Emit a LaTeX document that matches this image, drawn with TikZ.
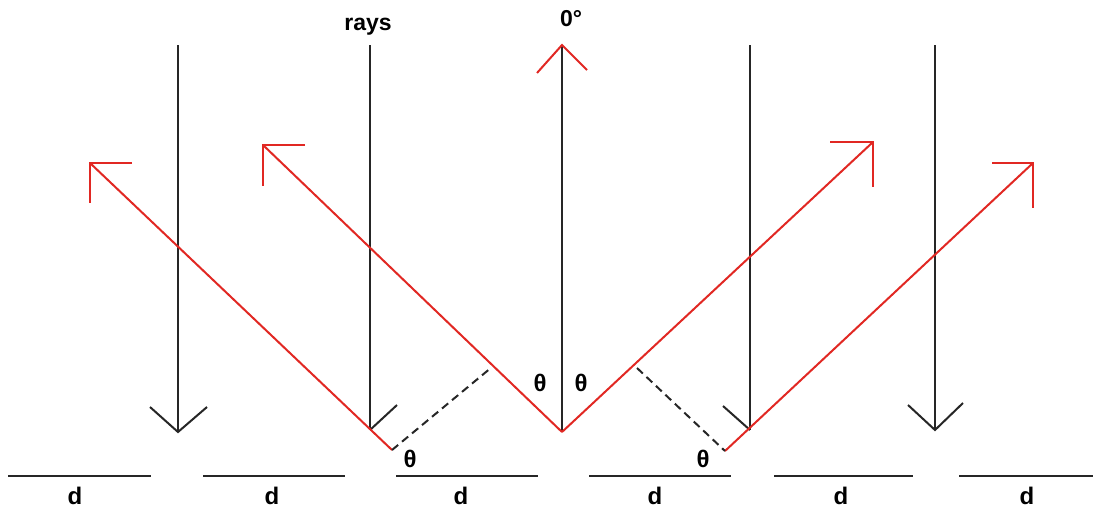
\documentclass[tikz,border=0pt]{standalone}
\usepackage{fontspec}
\setmainfont{Liberation Sans}
\definecolor{rayred}{RGB}{225,40,35}
\begin{document}
\begin{tikzpicture}[x=1pt,y=-1pt,
  ray/.style={draw=black!85, line width=2pt},
  refl/.style={draw=rayred, line width=2pt},
  guide/.style={draw=black!85, line width=2pt, dash pattern=on 8pt off 5pt},
  plate/.style={draw=black!85, line width=2.2pt},
  lab/.style={font=\fontsize{23}{25}\selectfont\bfseries, inner sep=0pt},
  glab/.style={font=\fontsize{24}{26}\selectfont\bfseries, inner sep=0pt}]
\useasboundingbox (0,0) rectangle (1093,509);

% incoming rays (top ends and bottom ends)
\coordinate (t1) at (178,45);  \coordinate (b1) at (178,432);
\coordinate (t2) at (370,45);  \coordinate (b2) at (370,430);
\coordinate (t3) at (562,45);  \coordinate (b3) at (562,432);
\coordinate (t4) at (750,45);  \coordinate (b4) at (750,430);
\coordinate (t5) at (935,45);  \coordinate (b5) at (935,430);
\foreach \i in {1,...,5} \draw[ray] (t\i) -- (b\i);

% black arrow wings
\coordinate (w1l) at (150,407); \coordinate (w1r) at (207,407);
\coordinate (w2r) at (397,405);
\coordinate (w4l) at (723,406);
\coordinate (w5l) at (908,405); \coordinate (w5r) at (963,403);
\draw[ray] (w1l) -- (b1) -- (w1r);
\draw[ray] (b2) -- (w2r);
\draw[ray] (w4l) -- (b4);
\draw[ray] (w5l) -- (b5) -- (w5r);

% reflected rays
\coordinate (p1) at (392,450); \coordinate (a1) at (90,163);
\coordinate (a2) at (263,145);
\coordinate (a3) at (873,142);
\coordinate (p4) at (725,451); \coordinate (a4) at (1033,163);
\draw[refl] (p1) -- (a1);
\draw[refl] (b3) -- (a2);
\draw[refl] (b3) -- (a3);
\draw[refl] (p4) -- (a4);

% red arrow wings
\coordinate (r1h) at (132,163); \coordinate (r1v) at (90,203);
\coordinate (r2h) at (305,145); \coordinate (r2v) at (263,186);
\coordinate (r3h) at (830,142); \coordinate (r3v) at (873,187);
\coordinate (r4h) at (992,163); \coordinate (r4v) at (1033,208);
\coordinate (r0l) at (537,73);  \coordinate (r0r) at (587,70);
\draw[refl] (r1h) -- (a1) -- (r1v);
\draw[refl] (r2h) -- (a2) -- (r2v);
\draw[refl] (r3h) -- (a3) -- (r3v);
\draw[refl] (r4h) -- (a4) -- (r4v);
\draw[refl] (r0l) -- (t3) -- (r0r);

% path-difference guides
\coordinate (g1) at (492,367);
\coordinate (g4) at (637,368);
\draw[guide] (p1) -- (g1);
\draw[guide] (g4) -- (p4);

% labels
\node[lab, anchor=base] (rays) at (368,30) {rays};
\node[lab, anchor=base] (zero) at (571,26) {0°};
\node[glab] (th1) at (540,383) {θ};
\node[glab] (th2) at (581,383) {θ};
\node[glab] (th3) at (410,459) {θ};
\node[glab] (th4) at (703,459) {θ};

% grating segments with d labels
\foreach \n/\xa/\xb/\xm in {1/8/151/75, 2/203/345/272, 3/396/538/461, 4/589/731/655, 5/774/913/841, 6/959/1093/1027} {
  \coordinate (s\n a) at (\xa,476);
  \coordinate (s\n b) at (\xb,476);
  \draw[plate] (s\n a) -- (s\n b);
  \node[glab] (d\n) at (\xm,496) {d};
}
\end{tikzpicture}
\end{document}
